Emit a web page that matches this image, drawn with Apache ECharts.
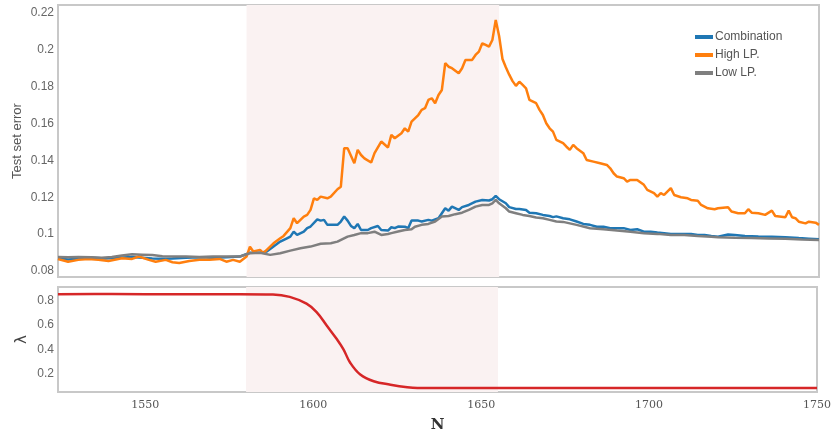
<!DOCTYPE html>
<html>
<head>
<meta charset="utf-8">
<script src="https://cdn.jsdelivr.net/npm/echarts@6/dist/echarts.min.js"></script>
<style>
html,body{margin:0;padding:0;background:#fff;}
#chart{width:834px;height:435px;}
</style>
</head>
<body>
<div id="chart"></div>
<script>
// ---- data ----
const seriesNames = ['Combination', 'High LP.', 'Low LP.'];

const combN = [1524,1527,1530,1534,1538,1542,1546,1549,1552,1555,1558,1562,1566,1570,1574,1578,1581,1584,1586,1588,1590,1592,1593,1594,1595,1597,1598,1599,1601,1602,1603,1604,1607,1608,1609,1610,1611,1612,1613,1614,1616,1617,1619,1620,1622,1623,1624,1625,1627,1628,1629,1631,1632,1634,1635,1637,1638,1639,1640,1641,1643,1644,1646,1648,1650,1652,1653,1654,1655,1657,1658,1660,1661,1663,1664,1666,1668,1670,1671,1672,1674,1676,1678,1680,1682,1684,1686,1688,1690,1692,1694,1696,1698,1700,1702,1704,1706,1708,1710,1712,1714,1716,1718,1720,1723,1725,1728,1732,1736,1740,1744,1747,1750];
const combV = [0.0868,0.0862,0.0866,0.0872,0.0868,0.0872,0.0876,0.0872,0.0868,0.0866,0.0868,0.0872,0.0874,0.0872,0.0874,0.0878,0.0899,0.0899,0.0905,0.0932,0.0959,0.0977,0.0986,0.1013,0.0995,0.1013,0.1032,0.1041,0.1080,0.1073,0.1077,0.1050,0.1050,0.1068,0.1095,0.1073,0.1044,0.1032,0.1055,0.1022,0.1022,0.1032,0.1044,0.1022,0.1019,0.1037,0.1032,0.1041,0.1040,0.1032,0.1073,0.1073,0.1068,0.1077,0.1073,0.1086,0.1113,0.1140,0.1127,0.1149,0.1131,0.1146,0.1158,0.1176,0.1185,0.1182,0.1189,0.1207,0.1189,0.1167,0.1146,0.1136,0.1136,0.1131,0.1116,0.1113,0.1104,0.1098,0.1092,0.1096,0.1086,0.1080,0.1068,0.1055,0.1050,0.1040,0.1040,0.1032,0.1032,0.1032,0.1022,0.1026,0.1013,0.1013,0.1008,0.1005,0.1001,0.1001,0.1001,0.1001,0.0995,0.0995,0.0989,0.0985,0.0998,0.0995,0.0990,0.0987,0.0985,0.0983,0.0978,0.0975,0.0972];

const highN = [1524,1527,1530,1533,1536,1539,1543,1546,1548,1551,1553,1556,1558,1560,1563,1566,1569,1572,1574,1576,1578,1580,1581,1582,1584,1585,1586,1588,1590,1591,1593,1594,1595,1596,1597,1598,1599,1600,1601,1602,1604,1605,1607,1608,1609,1610,1612,1613,1614,1615,1617,1618,1620,1622,1623,1624,1626,1627,1628,1629,1630,1631,1632,1633,1634,1635,1636,1637,1638,1639,1640,1641,1643,1644,1645,1647,1648,1649,1650,1651,1652,1653,1654,1655,1656,1657,1658,1659,1660,1661,1662,1663,1664,1666,1667,1668,1669,1670,1671,1672,1674,1675,1676,1677,1678,1680,1681,1683,1685,1687,1688,1689,1690,1692,1693,1694,1696,1698,1699,1701,1702,1703,1704,1706,1707,1709,1711,1712,1714,1715,1717,1719,1720,1723,1724,1726,1728,1729,1730,1732,1734,1736,1737,1740,1741,1742,1743,1744,1746,1747,1749,1750];
const highV = [0.0865,0.0850,0.0860,0.0865,0.0860,0.0854,0.0869,0.0865,0.0878,0.0860,0.0850,0.0860,0.0847,0.0843,0.0854,0.0860,0.0860,0.0865,0.0850,0.0860,0.0850,0.0878,0.0932,0.0905,0.0914,0.0896,0.0914,0.0950,0.0977,0.0990,0.1032,0.1086,0.1059,0.1077,0.1095,0.1104,0.1131,0.1194,0.1185,0.1203,0.1194,0.1203,0.1243,0.1257,0.1466,0.1466,0.1384,0.1457,0.1429,0.1411,0.1388,0.1439,0.1502,0.1470,0.1538,0.1520,0.1547,0.1574,0.1556,0.1610,0.1628,0.1646,0.1674,0.1683,0.1728,0.1737,0.1710,0.1755,0.1782,0.1927,0.1908,0.1900,0.1873,0.1900,0.1945,0.1945,0.1972,0.1990,0.2035,0.2026,0.2017,0.2053,0.2162,0.2075,0.1950,0.1905,0.1865,0.1830,0.1804,0.1827,0.1809,0.1791,0.1728,0.1710,0.1674,0.1646,0.1601,0.1574,0.1556,0.1511,0.1493,0.1474,0.1457,0.1484,0.1466,0.1439,0.1402,0.1393,0.1384,0.1375,0.1357,0.1330,0.1312,0.1303,0.1285,0.1294,0.1294,0.1267,0.1240,0.1222,0.1203,0.1222,0.1212,0.1249,0.1212,0.1200,0.1194,0.1185,0.1181,0.1158,0.1140,0.1135,0.1140,0.1146,0.1122,0.1113,0.1113,0.1135,0.1116,0.1113,0.1104,0.1127,0.1098,0.1091,0.1127,0.1091,0.1086,0.1067,0.1058,0.1067,0.1062,0.1050];

const lowN = [1524,1527,1530,1534,1537,1540,1543,1546,1549,1552,1555,1558,1562,1566,1570,1574,1578,1581,1584,1587,1590,1593,1596,1599,1602,1605,1607,1610,1612,1614,1616,1618,1620,1622,1623,1625,1627,1629,1630,1632,1634,1636,1638,1640,1642,1644,1646,1648,1650,1652,1653,1654,1655,1657,1658,1660,1662,1664,1666,1668,1670,1672,1674,1676,1678,1682,1686,1690,1694,1698,1702,1706,1710,1714,1718,1720,1725,1730,1735,1740,1745,1750];
const lowV = [0.0876,0.0874,0.0876,0.0874,0.0872,0.0876,0.0884,0.0890,0.0888,0.0886,0.0880,0.0878,0.0878,0.0876,0.0878,0.0878,0.0878,0.0896,0.0899,0.0887,0.0896,0.0910,0.0923,0.0932,0.0947,0.0950,0.0959,0.0986,0.0995,0.1005,0.1005,0.1013,0.0995,0.1000,0.1005,0.1014,0.1022,0.1026,0.1040,0.1050,0.1055,0.1068,0.1095,0.1098,0.1108,0.1116,0.1131,0.1149,0.1158,0.1158,0.1167,0.1185,0.1167,0.1140,0.1122,0.1113,0.1104,0.1098,0.1090,0.1086,0.1077,0.1068,0.1066,0.1058,0.1050,0.1032,0.1026,0.1019,0.1013,0.1005,0.1001,0.0995,0.0995,0.0989,0.0986,0.0983,0.0980,0.0978,0.0976,0.0974,0.0970,0.0968];

const lambdaN = [1524,1540,1560,1578,1588,1593,1598,1601,1604,1607,1609,1611,1614,1618,1623,1628,1631,1650,1700,1750];
const lambdaV = [0.852,0.853,0.852,0.852,0.850,0.830,0.774,0.705,0.595,0.484,0.400,0.290,0.193,0.138,0.110,0.089,0.083,0.083,0.083,0.083];

const shadeRange = [1580, 1655];
const xTicks = [1550, 1600, 1650, 1700, 1750];
const errTicks = [0.08, 0.10, 0.12, 0.14, 0.16, 0.18, 0.20, 0.22];
const lambdaTicks = [0.2, 0.4, 0.6, 0.8];

// ---- chart ----
const zip = (a, b) => a.map((v, i) => [v, b[i]]);
const fmt = v => String(+(+v).toFixed(2));
const chart = echarts.init(document.getElementById('chart'), null, {renderer: 'canvas'});
const shadeArea = {
  silent: true,
  itemStyle: {color: '#faf2f2'},
  data: [[{xAxis: shadeRange[0]}, {xAxis: shadeRange[1]}]]
};
const labelStyle = {color: '#666', fontFamily: 'Liberation Sans, Arial, sans-serif', fontSize: 12};

chart.setOption({
  animation: false,
  backgroundColor: '#fff',
  grid: [
    {left: 58, right: 15, top: 5, height: 272, show: true, borderColor: '#c8c8c8', borderWidth: 2, backgroundColor: '#fff'},
    {left: 58, right: 15, top: 287, height: 105, show: true, borderColor: '#c8c8c8', borderWidth: 2, backgroundColor: '#fff'}
  ],
  legend: {
    data: seriesNames,
    orient: 'vertical',
    left: 690, top: 26,
    itemWidth: 18, itemHeight: 4, itemGap: 6,
    icon: 'rect',
    textStyle: {color: '#555', fontFamily: 'Liberation Sans, Arial, sans-serif', fontSize: 12, padding: [0, 0, 0, -3]}
  },
  xAxis: [
    {type: 'value', gridIndex: 0, min: 1524, max: 1750,
     axisLine: {show: false}, axisTick: {show: false}, axisLabel: {show: false}, splitLine: {show: false}},
    {type: 'value', gridIndex: 1, min: 1524, max: 1750,
     axisLine: {show: false}, axisTick: {show: false}, splitLine: {show: false},
     axisLabel: {customValues: xTicks, formatter: v => String(v), color: '#555', fontFamily: 'DejaVu Serif, serif', fontSize: 11, margin: 8},
     name: 'N', nameLocation: 'middle', nameGap: 26,
     nameTextStyle: {fontFamily: 'DejaVu Serif, serif', fontWeight: 'bold', fontSize: 15, color: '#333'}}
  ],
  yAxis: [
    {type: 'value', gridIndex: 0, min: 0.0767, max: 0.2243,
     axisLine: {show: false}, axisTick: {show: false}, splitLine: {show: false},
     axisLabel: Object.assign({customValues: errTicks, formatter: fmt, margin: 4}, labelStyle),
     name: 'Test set error', nameLocation: 'middle', nameGap: 34, nameMoveOverlap: false,
     nameTextStyle: {color: '#555', fontFamily: 'Liberation Sans, Arial, sans-serif', fontSize: 13}},
    {type: 'value', gridIndex: 1, min: 0.05, max: 0.911,
     axisLine: {show: false}, axisTick: {show: false}, splitLine: {show: false},
     axisLabel: Object.assign({customValues: lambdaTicks, formatter: fmt, margin: 4}, labelStyle),
     name: 'λ', nameLocation: 'middle', nameGap: 28, nameMoveOverlap: false,
     nameTextStyle: {color: '#444', fontFamily: 'DejaVu Sans, sans-serif', fontSize: 15}}
  ],
  series: [
    {name: seriesNames[0], type: 'line', xAxisIndex: 0, yAxisIndex: 0, data: zip(combN, combV),
     showSymbol: false, symbol: 'none', lineStyle: {color: '#1f77b4', width: 2.5}, itemStyle: {color: '#1f77b4'},
     markArea: shadeArea, z: 2},
    {name: seriesNames[1], type: 'line', xAxisIndex: 0, yAxisIndex: 0, data: zip(highN, highV),
     showSymbol: false, symbol: 'none', lineStyle: {color: '#ff7f0e', width: 2.5}, itemStyle: {color: '#ff7f0e'}, z: 3},
    {name: seriesNames[2], type: 'line', xAxisIndex: 0, yAxisIndex: 0, data: zip(lowN, lowV),
     showSymbol: false, symbol: 'none', lineStyle: {color: '#7f7f7f', width: 2.5}, itemStyle: {color: '#7f7f7f'}, z: 4},
    {name: 'lambda', type: 'line', xAxisIndex: 1, yAxisIndex: 1, data: zip(lambdaN, lambdaV), smooth: 0.4,
     showSymbol: false, symbol: 'none', lineStyle: {color: '#d62728', width: 2.5}, itemStyle: {color: '#d62728'},
     markArea: shadeArea}
  ]
});
</script>
</body>
</html>
